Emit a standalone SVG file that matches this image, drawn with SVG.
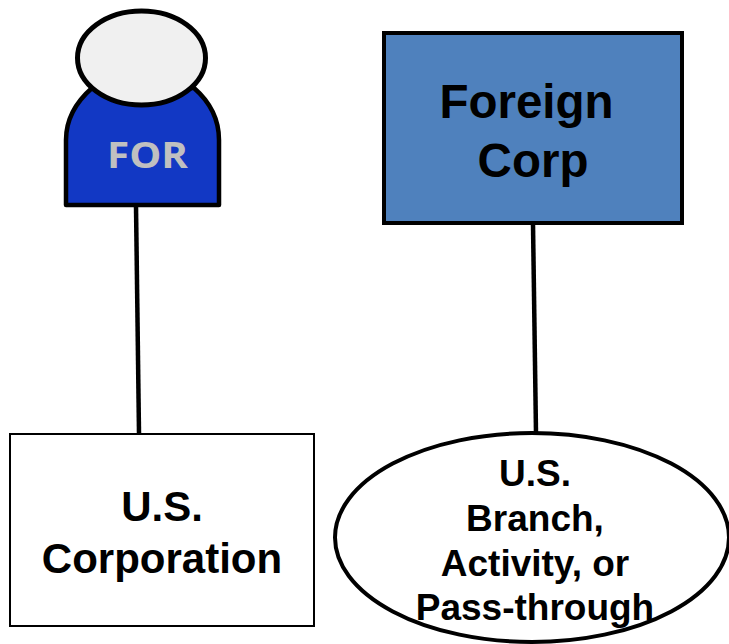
<svg xmlns="http://www.w3.org/2000/svg" width="729" height="644" viewBox="0 0 729 644">
<style>
.t{font-family:"Liberation Sans",Arial,sans-serif;font-weight:bold;fill:#000;text-anchor:middle}
.l{stroke:#000;stroke-width:4.5;fill:none}
</style>
<rect width="729" height="644" fill="#fff"/>
<g id="connectors">
<line class="l" x1="136" y1="206" x2="139" y2="433"/>
<line class="l" x1="533" y1="224" x2="536" y2="433"/>
</g>
<g id="for-person">
<path d="M66 205V140C66 118 76 102 92 88L194 88C210 102 219 118 219 140V205Z" fill="#1238c4" stroke="#000" stroke-width="4.500" stroke-linejoin="round"/>
<ellipse cx="141.500" cy="58" rx="64" ry="47" fill="#f0f0f0" stroke="#000" stroke-width="5"/>
<text x="147.500" y="168" font-size="36" textLength="81" lengthAdjust="spacingAndGlyphs" style="font-family:'Open Sans',sans-serif;font-weight:bold;fill:#c0c0c0;text-anchor:middle">FOR</text>
</g>
<g id="foreign-corp">
<rect x="384" y="33" width="298" height="190" fill="#4f81bd" stroke="#000" stroke-width="4"/>
<text class="t" x="526.500" y="118" font-size="47.500">Foreign</text>
<text class="t" x="533" y="177" font-size="47.500">Corp</text>
</g>
<g id="us-corporation">
<rect x="10" y="434" width="304" height="192" fill="#fff" stroke="#000" stroke-width="2"/>
<text class="t" x="162" y="521" font-size="42">U.S.</text>
<text class="t" x="162" y="573" font-size="42">Corporation</text>
</g>
<g id="us-branch">
<ellipse cx="532" cy="537.500" rx="197" ry="104.500" fill="#fff" stroke="#000" stroke-width="4"/>
<text class="t" x="535" y="486" font-size="37">U.S.</text>
<text class="t" x="535" y="531" font-size="37">Branch,</text>
<text class="t" x="535" y="576" font-size="37">Activity, or</text>
<text class="t" x="535" y="620" font-size="37">Pass-through</text>
</g>
</svg>
